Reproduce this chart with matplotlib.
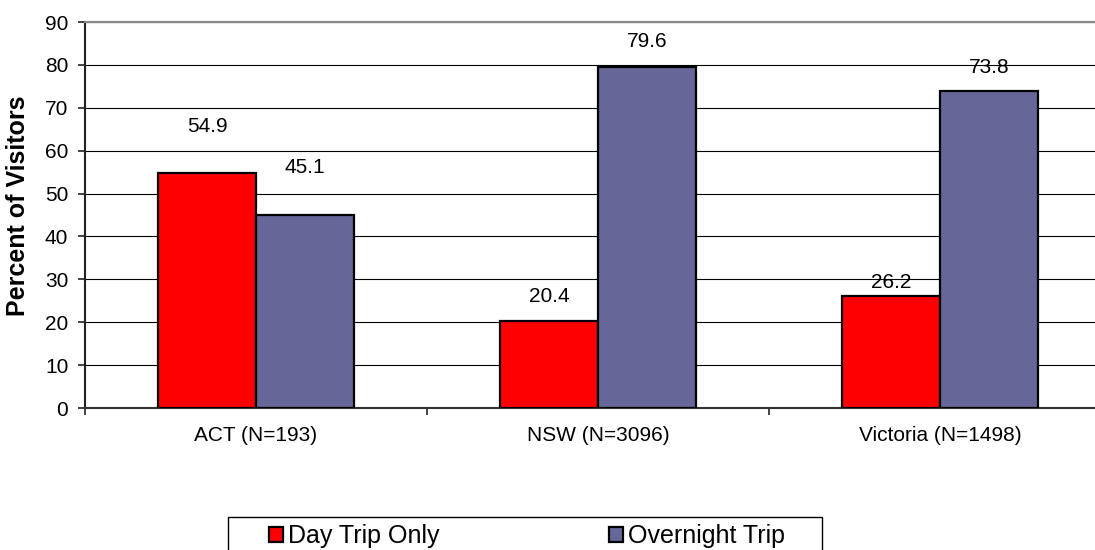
import matplotlib
matplotlib.use("Agg")
import matplotlib.pyplot as plt
import numpy as np
from matplotlib.patches import Rectangle
from matplotlib.ticker import FixedLocator

plt.rcParams['font.family'] = ['Liberation Sans', 'DejaVu Sans']

# Data
categories = ["ACT (N=193)", "NSW (N=3096)", "Victoria (N=1498)"]
day_trip = [54.9, 20.4, 26.2]
overnight = [45.1, 79.6, 73.8]
series_names = ["Day Trip Only", "Overnight Trip"]
y_ticks = [0, 10, 20, 30, 40, 50, 60, 70, 80, 90]

# Label lift above each bar top (pixels)
day_offsets = [46, 24, 13]
night_offsets = [47, 25, 24]

RED = "#FF0000"
PURPLE = "#666699"
FS = 15
FS_BIG = 18

fig = plt.figure(figsize=(10.95, 5.5), dpi=100)
W, H = 1095, 550
ax = fig.add_axes([85 / W, 142 / H, 1026 / W, 386 / H])

x = np.arange(len(categories))
w = 0.2865
b1 = ax.bar(x - w / 2, day_trip, w, color=RED, edgecolor="black",
            linewidth=1.6, zorder=3, label=series_names[0])
b2 = ax.bar(x + w / 2, overnight, w, color=PURPLE, edgecolor="black",
            linewidth=1.6, zorder=3, label=series_names[1])

for rect, v, off in zip(b1, day_trip, day_offsets):
    ax.annotate(f"{v:.1f}", (rect.get_x() + rect.get_width() / 2, v),
                xytext=(0, off), textcoords="offset pixels",
                ha="center", va="center", fontsize=FS, zorder=4)
for rect, v, off in zip(b2, overnight, night_offsets):
    ax.annotate(f"{v:.1f}", (rect.get_x() + rect.get_width() / 2, v),
                xytext=(0, off), textcoords="offset pixels",
                ha="center", va="center", fontsize=FS, zorder=4)

ax.set_xlim(-0.5, 2.5)
ax.set_ylim(0, 90)
ax.set_yticks(y_ticks)
ax.yaxis.grid(True, color="black", linewidth=0.8, zorder=0)
ax.set_axisbelow(True)

ax.set_xticks(x)
ax.set_xticklabels(categories, fontsize=FS)
ax.xaxis.set_minor_locator(FixedLocator([-0.5, 0.5, 1.5]))
ax.tick_params(axis="x", which="major", length=0, pad=13)
ax.tick_params(axis="x", which="minor", length=5, width=1.2, color="#222222")
ax.tick_params(axis="y", length=5, width=1.2, color="#222222", pad=7,
               labelsize=FS)

ax.spines["top"].set_color("#888888")
ax.spines["top"].set_linewidth(1.6)
ax.spines["right"].set_visible(False)
ax.spines["left"].set_color("#222222")
ax.spines["left"].set_linewidth(1.5)
ax.spines["bottom"].set_color("#333333")
ax.spines["bottom"].set_linewidth(1.5)

fig.text(18 / W, 1 - 206 / H, "Percent of Visitors", rotation=90,
         ha="center", va="center", fontsize=FS_BIG, fontweight="bold")

# Legend with a plain rectangular frame
fig.patches.append(Rectangle((228 / W, -10 / H), (822 - 228) / W, (43) / H,
                             transform=fig.transFigure, facecolor="white",
                             edgecolor="black", linewidth=1.0))
leg = fig.legend(handles=[b1, b2], labels=series_names,
                 loc="center left", bbox_to_anchor=(269 / W, 1 - 536 / H),
                 bbox_transform=fig.transFigure, ncol=2, frameon=False,
                 fontsize=FS_BIG, handlelength=0.55, handleheight=0.55,
                 handletextpad=0.2, columnspacing=6.8, borderpad=0,
                 borderaxespad=0)

fig.savefig("out.png", dpi=100)
